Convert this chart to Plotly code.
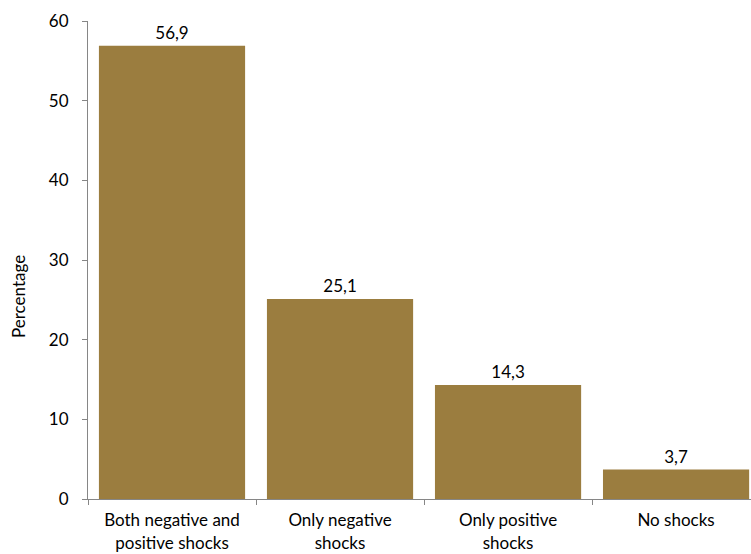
import plotly.graph_objects as go

categories = ["Both negative and<br>positive shocks", "Only negative<br>shocks",
              "Only positive<br>shocks", "No shocks"]
values = [56.9, 25.1, 14.3, 3.7]
y_ticks = [0, 10, 20, 30, 40, 50, 60]

labels = [f"{v:.1f}".replace(".", ",") for v in values]
font = "Lato, 'Open Sans', sans-serif"

fig = go.Figure(go.Bar(
    x=categories, y=values, text=labels, textposition="outside",
    textfont=dict(size=17, color="#000000", family=font),
    marker=dict(color="#9B7D3F", line=dict(width=0)),
    cliponaxis=False,
))

fig.update_layout(
    width=751, height=554,
    margin=dict(l=88, r=0, t=21, b=55),
    plot_bgcolor="white", paper_bgcolor="white",
    bargap=0.13, showlegend=False,
    font=dict(family=font, size=17, color="#000000"),
)
fig.add_annotation(
    text="Percentage", textangle=-90, xref="paper", yref="paper",
    x=-(88 - 18) / 663, y=(499 - 297) / 478, xanchor="center", yanchor="middle",
    showarrow=False, font=dict(size=17, family=font, color="#000000"),
)
fig.update_xaxes(
    type="category", range=[-0.5, 3.446],
    tickson="boundaries", ticks="outside", ticklen=5, tickcolor="#868686",
    showline=True, linecolor="#868686", linewidth=1,
    showgrid=False, tickfont=dict(size=17, family=font), ticklabelstandoff=6,
)
fig.update_yaxes(
    range=[0, 60], tickvals=y_ticks, ticks="outside", ticklen=5,
    tickcolor="#868686", showline=True, linecolor="#868686", linewidth=1,
    showgrid=False, zeroline=False, tickfont=dict(size=17, family=font),
    ticklabelstandoff=10,
)
fig.write_html("out.html")
